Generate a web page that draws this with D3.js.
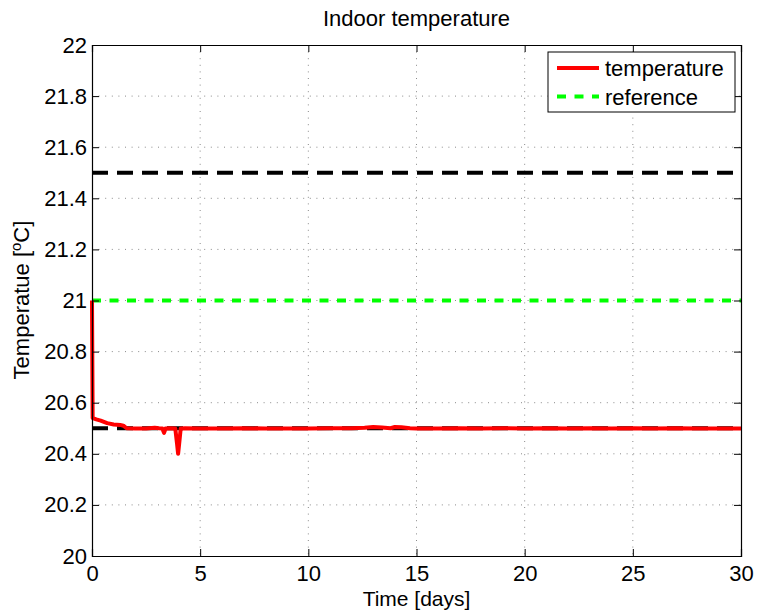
<!DOCTYPE html>
<html><head><meta charset="utf-8">
<script src="https://cdn.jsdelivr.net/npm/d3@7"></script>
<style>body{margin:0;background:#fff}svg{display:block}text{font-family:"Liberation Sans",Arial,sans-serif;fill:#000}</style>
</head><body><svg id="c" width="759" height="614"></svg>
<script>
const xTicks = [0,5,10,15,20,25,30];
const yTicks = [20,20.2,20.4,20.6,20.8,21,21.2,21.4,21.6,21.8,22];
const yTickLabels = ["20","20.2","20.4","20.6","20.8","21","21.2","21.4","21.6","21.8","22"];
const timeDays = [0,0.03,0.1,0.2,0.4,0.7,1.0,1.3,1.45,1.6,2.0,2.5,2.9,3.1,3.25,3.33,3.4,3.6,3.85,3.93,3.98,4.03,4.1,4.3,5,6,7,8,9,10,11,12,12.6,13.0,13.4,13.8,14.0,14.3,14.7,15,16,17,18,19,20,21,22,23,24,25,26,27,28,29,30];
const temperature = [21.0,20.54,20.538,20.535,20.53,20.52,20.515,20.513,20.51,20.5,20.499,20.499,20.502,20.5,20.499,20.482,20.499,20.5,20.499,20.44,20.4,20.44,20.499,20.5,20.499,20.499,20.5,20.499,20.499,20.499,20.5,20.5,20.502,20.505,20.503,20.5,20.505,20.504,20.5,20.499,20.499,20.5,20.499,20.5,20.499,20.5,20.499,20.5,20.499,20.5,20.499,20.5,20.499,20.499,20.499];
const referenceTemp = [21,21];
const upperLimit = [21.5,21.5];
const lowerLimit = [20.5,20.5];
const limitTime = [0,30];
const legendLabels = ["temperature","reference"];

const L=92,R=741,T=45,B=556;
const FS=22;
const svg=d3.select("#c");
const x=d3.scaleLinear().domain([0,30]).range([L,R]);
const y=d3.scaleLinear().domain([20,22]).range([B,T]);

// grid
const g=svg.append("g");
g.selectAll(".gx").data(xTicks.slice(1,-1)).enter().append("line")
 .attr("x1",d=>x(d)).attr("x2",d=>x(d)).attr("y1",T).attr("y2",B)
 .attr("stroke","#8a8a8a").attr("stroke-width",1).attr("stroke-dasharray","1,5.6");
g.selectAll(".gy").data(yTicks.slice(1,-1)).enter().append("line")
 .attr("y1",d=>y(d)).attr("y2",d=>y(d)).attr("x1",L).attr("x2",R)
 .attr("stroke","#8a8a8a").attr("stroke-width",1).attr("stroke-dasharray","1,5.6");

// limit lines
const line=d3.line().x(d=>x(d[0])).y(d=>y(d[1]));
svg.append("path").datum(limitTime.map((t,i)=>[t,upperLimit[i]])).attr("d",line)
 .attr("fill","none").attr("stroke","#000").attr("stroke-width",4).attr("stroke-dasharray","16,9");
svg.append("path").datum(limitTime.map((t,i)=>[t,lowerLimit[i]])).attr("d",line)
 .attr("fill","none").attr("stroke","#000").attr("stroke-width",4).attr("stroke-dasharray","16,9");
svg.append("path").datum(limitTime.map((t,i)=>[t,referenceTemp[i]])).attr("d",line)
 .attr("fill","none").attr("stroke","#00ff00").attr("stroke-width",4).attr("stroke-dasharray","9,8.5");
svg.append("path").datum(timeDays.map((t,i)=>[t,temperature[i]])).attr("d",line)
 .attr("fill","none").attr("stroke","#ff0000").attr("stroke-width",4).attr("stroke-linejoin","round");

// axes
const axB=svg.append("g").attr("transform",`translate(0,${B})`).call(d3.axisBottom(x).tickValues(xTicks).tickSize(-7).tickPadding(9).tickFormat(d3.format("d")));
const axT=svg.append("g").attr("transform",`translate(0,${T})`).call(d3.axisTop(x).tickValues(xTicks).tickSize(-7).tickFormat(""));
const axL=svg.append("g").attr("transform",`translate(${L},0)`).call(d3.axisLeft(y).tickValues(yTicks).tickSize(-7).tickPadding(5).tickFormat((d,i)=>yTickLabels[i]));
const axR=svg.append("g").attr("transform",`translate(${R},0)`).call(d3.axisRight(y).tickValues(yTicks).tickSize(-7).tickFormat(""));
[axB,axT,axL,axR].forEach(a=>{a.select(".domain").attr("stroke","#000").attr("stroke-width",1.2);a.selectAll(".tick line").attr("stroke","#000");});
[axB,axL].forEach(a=>a.selectAll("text").attr("font-size",FS).attr("font-family","Liberation Sans, Arial, sans-serif").attr("fill","#000"));

// titles
svg.append("text").attr("x",(L+R)/2).attr("y",26).attr("text-anchor","middle").attr("font-size",FS).text("Indoor temperature");
svg.append("text").attr("x",(L+R)/2).attr("y",606).attr("text-anchor","middle").attr("font-size",21).text("Time [days]");
const yl=svg.append("text").attr("transform","translate(29,300) rotate(-90)").attr("text-anchor","middle").attr("font-size",FS);
yl.append("tspan").text("Temperatue [");
yl.append("tspan").attr("font-size",15).attr("dy",-8).text("o");
yl.append("tspan").attr("dy",8).text("C]");

// legend
const lg=svg.append("g");
lg.append("rect").attr("x",548).attr("y",52).attr("width",187).attr("height",60).attr("fill","#fff").attr("stroke","#000").attr("stroke-width",1);
const colors=["#ff0000","#00ff00"],dashes=[null,"9,8.5"];
legendLabels.forEach((lab,i)=>{
  const yy=68+i*28.5;
  lg.append("line").attr("x1",557).attr("x2",599).attr("y1",yy).attr("y2",yy).attr("stroke",colors[i]).attr("stroke-width",4).attr("stroke-dasharray",dashes[i]);
  lg.append("text").attr("x",605).attr("y",yy+8).attr("font-size",FS).text(lab);
});
</script></body></html>
